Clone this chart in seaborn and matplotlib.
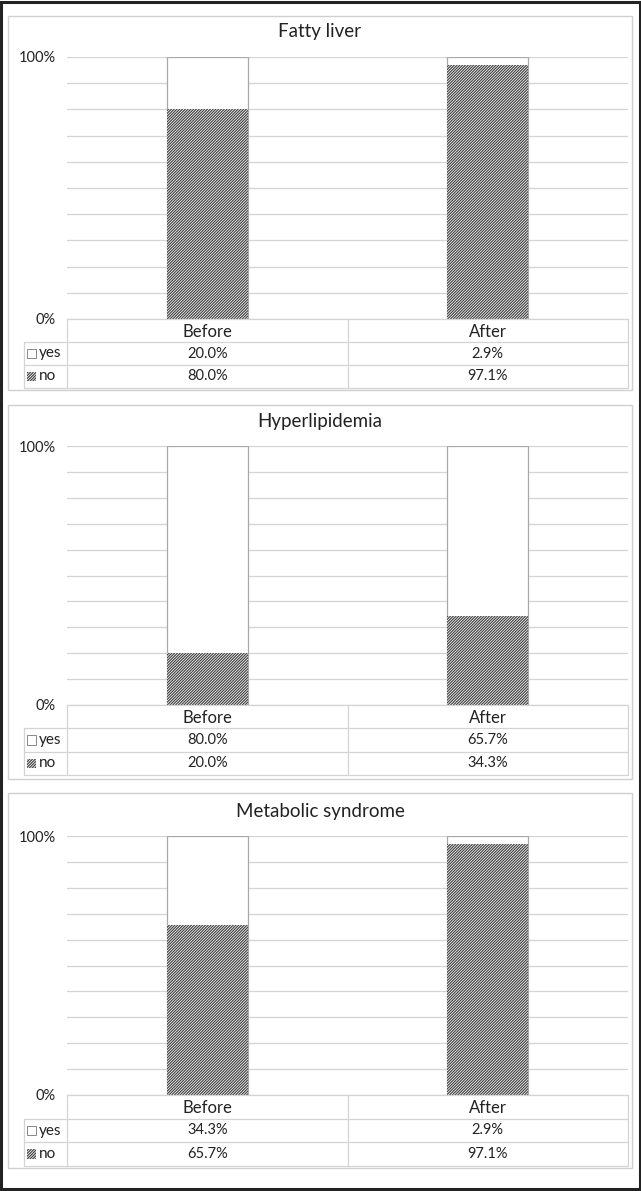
import matplotlib
matplotlib.use("Agg")
import matplotlib.pyplot as plt
import seaborn as sns
import pandas as pd
from matplotlib.patches import Rectangle

categories = ["Before", "After"]
titles = ["Fatty liver", "Hyperlipidemia", "Metabolic syndrome"]
yes_fatty = [20.0, 2.9]
no_fatty = [80.0, 97.1]
yes_hyper = [80.0, 65.7]
no_hyper = [20.0, 34.3]
yes_metab = [34.3, 2.9]
no_metab = [65.7, 97.1]
series_labels = ["yes", "no"]

sns.set_theme(style="white")
plt.rcParams['font.family'] = ['Lato', 'DejaVu Sans']
plt.rcParams['hatch.linewidth'] = 0.85

W, H = 641, 1191
fig = plt.figure(figsize=(W / 100, H / 100), dpi=100)
fig.patch.set_facecolor("white")

GRID = "#d4d4d4"
TXT = "#222222"

def fx(px):
    return px / W

def fy(py):
    return 1 - py / H

# panel geometry in pixels: (box_top, box_bottom, title_y, plot_top, plot_bottom, table_bottom)
geoms = [
    (16, 390, 32, 57, 319, 388),
    (405, 779, 421, 446, 705, 775),
    (793, 1168, 812, 836, 1095, 1166),
]
data_sets = [(yes_fatty, no_fatty), (yes_hyper, no_hyper), (yes_metab, no_metab)]

PX_L, PX_R, TAB_L = 67, 628, 24

# outer black frame
fig.patches.append(Rectangle((0.002, 0.002), 0.996, 0.996, transform=fig.transFigure,
                             fill=False, edgecolor="#222222", linewidth=2.2))

for (title, (yes, no), g) in zip(titles, data_sets, geoms):
    btop, bbot, ty, ptop, pbot, tbot = g
    # panel box
    fig.patches.append(Rectangle((fx(8), fy(bbot)), fx(632 - 8), (bbot - btop) / H,
                                 transform=fig.transFigure, fill=False,
                                 edgecolor="#d0d0d0", linewidth=1.0))
    fig.text(fx(320), fy(ty), title, ha="center", va="center",
             fontsize=13.5, color=TXT)

    ax = fig.add_axes([fx(PX_L), fy(pbot), fx(PX_R - PX_L), (pbot - ptop) / H])
    df = pd.DataFrame({"cat": categories, "total": [y + n for y, n in zip(yes, no)],
                       "no": no})
    sns.barplot(data=df, x="cat", y="total", order=categories, ax=ax, width=0.29,
                color="white", edgecolor="#a8a8a8", linewidth=0.9, zorder=3)
    sns.barplot(data=df, x="cat", y="no", order=categories, ax=ax, width=0.29,
                color="white", edgecolor="#404040", linewidth=0, hatch="////////////",
                zorder=4)
    ax.set_xlim(-0.5, 1.5)
    ax.set_ylim(0, 100)
    ax.set_yticks([0, 100])
    ax.set_yticklabels(["0%", "100%"])
    ax.set_yticks(list(range(10, 100, 10)), minor=True)
    ax.grid(True, axis="y", which="both", color=GRID, linewidth=0.9, zorder=0)
    ax.set_axisbelow(True)
    ax.tick_params(axis="y", which="both", length=0, pad=8, labelsize=10.5,
                   labelcolor=TXT)
    ax.set_xticks([])
    ax.set_xlabel("")
    ax.set_ylabel("")
    for s in ax.spines.values():
        s.set_visible(False)

    # data table
    tax = fig.add_axes([fx(TAB_L), fy(tbot), fx(PX_R - TAB_L), (tbot - pbot) / H])
    unit = (PX_R - PX_L) / 2.0
    left = -0.5 - (PX_L - TAB_L) / unit
    tax.set_xlim(left, 1.5)
    tax.set_ylim(0, 3)
    tax.axis("off")
    lc = GRID
    lw = 0.9
    tax.plot([-0.5, 1.5], [3, 3], color=lc, lw=lw, clip_on=False)
    tax.plot([left, 1.5], [2, 2], color=lc, lw=lw, clip_on=False)
    tax.plot([left, 1.5], [1, 1], color=lc, lw=lw, clip_on=False)
    tax.plot([left, 1.5], [0, 0], color=lc, lw=lw, clip_on=False)
    for xv in [-0.5, 0.5, 1.5]:
        tax.plot([xv, xv], [0, 3], color=lc, lw=lw, clip_on=False)
    tax.plot([left, left], [0, 2], color=lc, lw=lw, clip_on=False)
    for i, c in enumerate(categories):
        tax.text(i, 2.45, c, ha="center", va="center", fontsize=12, color=TXT)
        tax.text(i, 1.5, f"{yes[i]:.1f}%", ha="center", va="center", fontsize=10.5, color=TXT)
        tax.text(i, 0.5, f"{no[i]:.1f}%", ha="center", va="center", fontsize=10.5, color=TXT)
    # legend keys
    kw = 9 / unit
    kx = left + 3 / unit
    tax.add_patch(Rectangle((kx, 1.5 - 0.2), kw, 0.4, facecolor="white",
                            edgecolor="#888888", lw=0.7, clip_on=False))
    tax.add_patch(Rectangle((kx, 0.5 - 0.2), kw, 0.4, facecolor="white",
                            edgecolor="#404040", lw=0, hatch="////////////", clip_on=False))
    tax.text(kx + kw + 3 / unit, 1.5, series_labels[0], ha="left", va="center",
             fontsize=11, color=TXT)
    tax.text(kx + kw + 3 / unit, 0.5, series_labels[1], ha="left", va="center",
             fontsize=11, color=TXT)

fig.savefig("out.png", dpi=100, facecolor="white")
